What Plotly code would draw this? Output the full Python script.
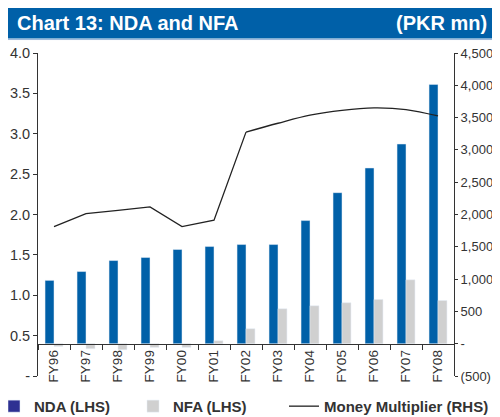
import plotly.graph_objects as go

years = ["FY96", "FY97", "FY98", "FY99", "FY00", "FY01", "FY02",
         "FY03", "FY04", "FY05", "FY06", "FY07", "FY08"]
nda = [980, 1117, 1287, 1334, 1458, 1504, 1535, 1535, 1906, 2338, 2720, 3091, 4014]
nfa = [-42, -77, -93, -57, -57, 46, 232, 541, 587, 634, 685, 989, 669]
mm = [1.85, 2.01, 2.05, 2.095, 1.85, 1.93, 3.02, 3.13, 3.23, 3.29, 3.32, 3.30, 3.22]

left_vals = [0, 0.5, 1.0, 1.5, 2.0, 2.5, 3.0, 3.5, 4.0]
left_text = ["-", "0.5", "1.0", "1.5", "2.0", "2.5", "3.0", "3.5", "4.0"]
right_vals = [-500, 0, 500, 1000, 1500, 2000, 2500, 3000, 3500, 4000, 4500]
right_text = ["(500)", "-", "500", "1,000", "1,500", "2,000", "2,500",
              "3,000", "3,500", "4,000", "4,500"]

BLUE = "#0060A8"
GREY = "#D0D0D0"
NAVY = "#2E3192"
FONT = "Arial, Liberation Sans, sans-serif"
TXT = "#333333"

fig = go.Figure()
fig.add_trace(go.Bar(x=years, y=nda, marker_color=BLUE, width=0.28, offset=-0.28,
                     showlegend=False, yaxis="y"))
fig.add_trace(go.Bar(x=years, y=nfa, marker_color=GREY, width=0.28, offset=0.0,
                     showlegend=False, yaxis="y"))
fig.add_trace(go.Bar(x=[None], y=[None], marker_color=NAVY, name="NDA (LHS)",
                     width=0.28, offset=0, yaxis="y", legend="legend"))
fig.add_trace(go.Bar(x=[None], y=[None], marker_color=GREY, name="NFA (LHS)",
                     width=0.28, offset=0, yaxis="y", legend="legend"))
fig.add_trace(go.Scatter(x=years[:7], y=mm[:7], mode="lines", yaxis="y2",
                         line=dict(color="#222222", width=1.3),
                         name="Money Multiplier (RHS)", legend="legend2"))
fig.add_trace(go.Scatter(x=years[6:], y=mm[6:], mode="lines", yaxis="y2",
                         line=dict(color="#222222", width=1.3, shape="spline", smoothing=1.0),
                         showlegend=False))

# page offset of the figure (body margin)
OFF = 8
W, H = 500, 417
# plot area in page pixels: x 38..454, y 52.5..376.5
L = 38 - OFF
R = W - (454 - OFF)
T = 52.5 - OFF
B = H - (376.5 - OFF)
pw, ph = W - L - R, H - T - B


def px(x):
    return (x - OFF - L) / pw


def py(y):
    return (H - B - (y - OFF)) / ph


legfont = dict(size=15, color=TXT, family=FONT, weight="bold")

fig.update_layout(
    width=W, height=H,
    margin=dict(l=L, r=R, t=T, b=B, autoexpand=False),
    paper_bgcolor="white", plot_bgcolor="white",
    font=dict(family=FONT, size=13, color=TXT),
    barmode="overlay",
    xaxis=dict(anchor="free", position=0.1, showline=True, linecolor="#333333",
               linewidth=1, ticks="outside", ticklen=5, tickcolor="#333333",
               tickson="boundaries", tickangle=-90, showgrid=False,
               tickfont=dict(size=13.5, color=TXT), range=[-0.5, 12.5]),
    yaxis=dict(side="right", range=[-500, 4500], tickvals=right_vals,
               ticktext=right_text, showline=True, linecolor="#333333",
               ticks="outside", ticklen=3, tickcolor="#333333", showgrid=False,
               zeroline=False, tickfont=dict(size=13, color=TXT)),
    yaxis2=dict(side="left", overlaying="y", range=[0, 4], tickvals=left_vals,
                ticktext=left_text, showline=True, linecolor="#333333",
                ticks="outside", ticklen=4, tickcolor="#333333", showgrid=False,
                zeroline=False, tickfont=dict(size=14.5, color=TXT)),
    legend=dict(orientation="h", x=px(-6), y=py(407), xanchor="left", yanchor="middle",
                font=legfont, entrywidth=94, bgcolor="rgba(0,0,0,0)", itemwidth=30),
    legend2=dict(orientation="h", x=px(284), y=py(407), xanchor="left", yanchor="middle",
                 font=legfont, bgcolor="rgba(0,0,0,0)", itemwidth=30),
    shapes=[dict(type="rect", xref="paper", yref="paper",
                 x0=px(8), x1=px(510), y0=py(38), y1=py(7),
                 fillcolor=BLUE, line=dict(width=0), layer="below"),
            dict(type="line", xref="paper", yref="paper",
                 x0=px(8), x1=px(510), y0=py(39), y1=py(39),
                 line=dict(color="#9DB7DA", width=1))],
    annotations=[
        dict(text="<b>Chart 13: NDA and NFA</b>", xref="paper", yref="paper",
             x=px(15), y=py(22.5), xanchor="left", yanchor="middle", showarrow=False,
             font=dict(size=20, color="white", family=FONT)),
        dict(text="<b>(PKR mn)</b>", xref="paper", yref="paper",
             x=px(489), y=py(22.5), xanchor="right", yanchor="middle", showarrow=False,
             font=dict(size=20, color="white", family=FONT)),
    ],
)

fig.write_html("out.html")
